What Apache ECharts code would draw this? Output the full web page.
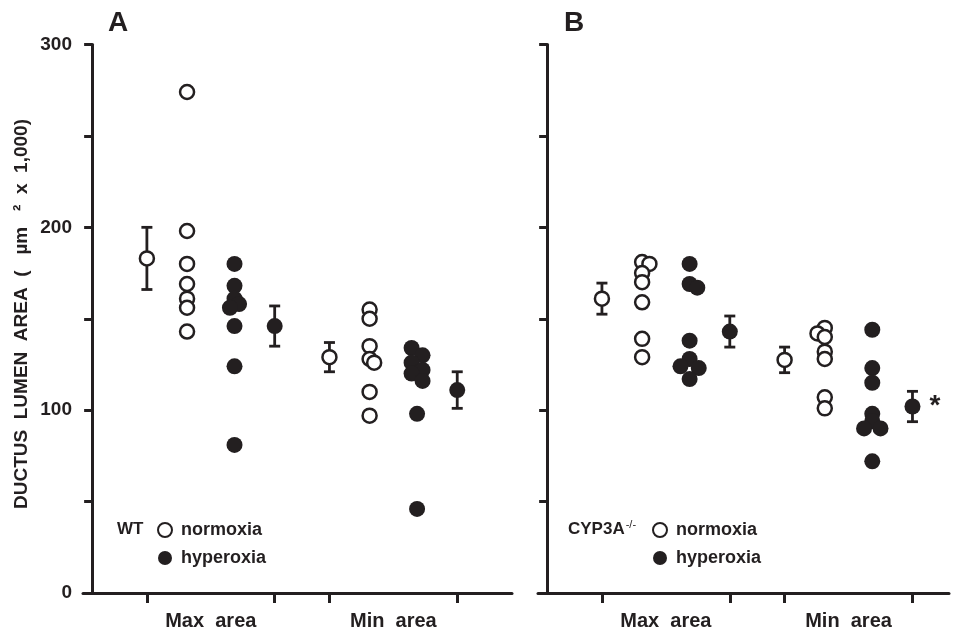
<!DOCTYPE html>
<html>
<head>
<meta charset="utf-8">
<title>Ductus lumen area</title>
<script src="https://cdn.jsdelivr.net/npm/echarts@6/dist/echarts.min.js"></script>
<style>
    html, body { margin: 0; padding: 0; background: #fff; }
    #chart { width: 956px; height: 632px; }
</style>
</head>
<body>
<div id="chart"></div>
<script>
// 数据: 每只动物的管腔面积 (µm² x 1,000)
var groupLabels = ['Max  area', 'Min  area'];

// WT
var wtMaxNorm = [274, 198, 180, 169, 161, 156, 143];
var wtMaxHyper = [180, 168, 161, 158, 156, 146, 124, 81];
var wtMinNorm = [155, 150, 135, 128, 126, 110, 97];
var wtMinHyper = [134, 130, 126, 122, 120, 116, 98, 46];
// CYP3A-/-
var cypMaxNorm = [181, 180, 175, 170, 159, 139, 129];
var cypMaxHyper = [180, 169, 167, 138, 128, 124, 123, 117];
var cypMinNorm = [145, 142, 140, 132, 128, 107, 101];
var cypMinHyper = [144, 123, 115, 98, 94, 90, 90, 72];

// 均值 ± SEM, 顺序: max 常氧, max 高氧, min 常氧, min 高氧
var wtMean = [183, 146, 129, 111];
var wtSem = [17, 11, 8, 10];
var cypMean = [161, 143, 127.5, 102];
var cypSem = [8.5, 8.5, 7, 8.3];

// 重叠圆点的左右错开 (x 轴单位)
var wtMaxNormJit = [0, 0, 0, 0, 0, 0, 0];
var wtMaxHyperJit = [0, 0, 0, 0.25, -0.25, 0, 0, 0];
var wtMinNormJit = [0, 0, 0, 0, 0.25, 0, 0];
var wtMinHyperJit = [-0.3, 0.3, -0.3, 0.3, -0.3, 0.3, 0, 0];
var cypMaxNormJit = [0, 0.4, 0, 0, 0, 0, 0];
var cypMaxHyperJit = [0, 0, 0.42, 0, 0, -0.5, 0.5, 0];
var cypMinNormJit = [0, -0.4, 0, 0, 0, 0, 0];
var cypMinHyperJit = [0, 0, 0, 0, 0, -0.45, 0.45, 0];

(function () {
    var ink = '#231f20';
    var font = '"Liberation Sans", Arial, sans-serif';
    // 列的位置: 均值, 个体, 个体, 均值 (两组)
    var colX = [3, 5.2, 7.8, 10, 13, 15.2, 17.8, 20];
    var tickX = [3, 10, 13, 20];
    var labelX = [6.5, 16.5];

    function dots(vals, jit, x) {
        return vals.map(function (v, i) {
            return [x + jit[i], v];
        });
    }

    var openStyle = { color: '#fff', borderColor: ink, borderWidth: 2.5, opacity: 1 };
    var fillStyle = { color: ink, borderWidth: 0, opacity: 1 };

    // 误差线 (custom)
    function errorBars(idx, mean, sem) {
        var pos = [colX[0], colX[3], colX[4], colX[7]];
        return {
            type: 'custom',
            xAxisIndex: idx,
            yAxisIndex: idx,
            z: 1,
            silent: true,
            encode: { x: 0, y: 1 },
            data: mean.map(function (m, i) { return [pos[i], m, sem[i]]; }),
            renderItem: function (params, api) {
                var x = api.value(0), m = api.value(1), s = api.value(2);
                var top = api.coord([x, m + s]);
                var bot = api.coord([x, m - s]);
                var hw = 5.5;
                var st = { stroke: ink, lineWidth: 2.8 };
                return {
                    type: 'group',
                    children: [
                        { type: 'line', shape: { x1: top[0], y1: top[1], x2: bot[0], y2: bot[1] }, style: st },
                        { type: 'line', shape: { x1: top[0] - hw, y1: top[1], x2: top[0] + hw, y2: top[1] }, style: st },
                        { type: 'line', shape: { x1: bot[0] - hw, y1: bot[1], x2: bot[0] + hw, y2: bot[1] }, style: st }
                    ]
                };
            }
        };
    }

    function panelSeries(idx, maxN, maxNJ, maxH, maxHJ, minN, minNJ, minH, minHJ, mean, sem, star) {
        var hyperMeanMin = { value: [colX[7], mean[3]] };
        if (star) {
            hyperMeanMin.label = {
                show: true, position: 'right', distance: 9, formatter: '*',
                color: ink, fontSize: 28, fontWeight: 'bold', fontFamily: font
            };
        }
        return [
            errorBars(idx, mean, sem),
            {
                name: 'normoxia', type: 'scatter', xAxisIndex: idx, yAxisIndex: idx, z: 3,
                symbolSize: 14, itemStyle: openStyle,
                data: [[colX[0], mean[0]], [colX[4], mean[2]]]
            },
            {
                name: 'hyperoxia', type: 'scatter', xAxisIndex: idx, yAxisIndex: idx, z: 3,
                symbolSize: 16, itemStyle: fillStyle,
                data: [[colX[3], mean[1]], hyperMeanMin]
            },
            {
                name: 'normoxia', type: 'scatter', xAxisIndex: idx, yAxisIndex: idx, z: 3,
                symbolSize: 14, itemStyle: openStyle,
                data: dots(maxN, maxNJ, colX[1]).concat(dots(minN, minNJ, colX[5]))
            },
            {
                name: 'hyperoxia', type: 'scatter', xAxisIndex: idx, yAxisIndex: idx, z: 3,
                symbolSize: 16, itemStyle: fillStyle,
                data: dots(maxH, maxHJ, colX[2]).concat(dots(minH, minHJ, colX[6]))
            }
        ];
    }

    function xAxis(idx, max) {
        return {
            gridIndex: idx,
            type: 'value',
            min: -0.5,
            max: max,
            axisLine: { show: true, lineStyle: { color: ink, width: 3 } },
            axisTick: { show: true, customValues: tickX, length: 10, lineStyle: { color: ink, width: 3 } },
            axisLabel: {
                customValues: labelX,
                formatter: function (v) {
                    var i = labelX.indexOf(v);
                    return i >= 0 ? groupLabels[i] : '';
                },
                margin: 18,
                color: ink, fontSize: 20, fontWeight: 'bold', fontFamily: font
            },
            splitLine: { show: false }
        };
    }

    function yAxis(idx, showLabels) {
        return {
            gridIndex: idx,
            type: 'value',
            min: 0,
            max: 300,
            interval: 50,
            axisLine: { show: true, onZero: true, lineStyle: { color: ink, width: 3 } },
            axisTick: { show: true, length: 8, lineStyle: { color: ink, width: 3 } },
            axisLabel: {
                show: showLabels,
                formatter: function (v) { return v % 100 === 0 ? v : ''; },
                margin: 11,
                color: ink, fontSize: 19, fontWeight: 'bold', fontFamily: font
            },
            splitLine: { show: false }
        };
    }

    function legend(left) {
        return {
            orient: 'vertical',
            left: left,
            top: 521,
            padding: 0,
            itemWidth: 22,
            itemHeight: 14,
            itemGap: 10,
            selectedMode: false,
            data: ['normoxia', 'hyperoxia'],
            textStyle: { color: ink, fontSize: 18, fontWeight: 'bold', fontFamily: font, lineHeight: 18 }
        };
    }

    var myChart = echarts.init(document.getElementById('chart'), null, { renderer: 'canvas' });
    var option = {
        animation: false,
        backgroundColor: '#fff',
        grid: [
            { left: 83, top: 44.5, width: 429, height: 548.5 },
            { left: 538, top: 44.5, width: 411, height: 548.5 }
        ],
        xAxis: [xAxis(0, 23), xAxis(1, 22)],
        yAxis: [yAxis(0, true), yAxis(1, false)],
        legend: [legend(157), legend(652)],
        graphic: [
            {
                type: 'text', x: 22, y: 314, rotation: Math.PI / 2,
                style: {
                    text: 'DUCTUS  LUMEN  AREA  (   µm   ²  x  1,000)',
                    fill: ink, font: 'bold 19px ' + font,
                    textAlign: 'center', textVerticalAlign: 'middle'
                }
            },
            { type: 'text', x: 118, y: 23, style: { text: 'A', fill: ink, font: 'bold 28px ' + font, textAlign: 'center', textVerticalAlign: 'middle' } },
            { type: 'text', x: 574, y: 23, style: { text: 'B', fill: ink, font: 'bold 28px ' + font, textAlign: 'center', textVerticalAlign: 'middle' } },
            { type: 'text', x: 117, y: 529, style: { text: 'WT', fill: ink, font: 'bold 17px ' + font, textVerticalAlign: 'middle' } },
            {
                type: 'text', x: 568, y: 529,
                style: {
                    text: '{a|CYP3A}{s|-/-}',
                    textVerticalAlign: 'middle',
                    rich: {
                        a: { fill: ink, fontSize: 17, fontWeight: 'bold', fontFamily: font },
                        s: { fill: ink, fontSize: 11, fontFamily: font, verticalAlign: 'top', padding: [0, 0, 8, 1] }
                    }
                }
            }
        ],
        series: []
            .concat(panelSeries(0, wtMaxNorm, wtMaxNormJit, wtMaxHyper, wtMaxHyperJit,
                wtMinNorm, wtMinNormJit, wtMinHyper, wtMinHyperJit, wtMean, wtSem, false))
            .concat(panelSeries(1, cypMaxNorm, cypMaxNormJit, cypMaxHyper, cypMaxHyperJit,
                cypMinNorm, cypMinNormJit, cypMinHyper, cypMinHyperJit, cypMean, cypSem, true))
    };
    myChart.setOption(option);
})();
</script>
</body>
</html>
